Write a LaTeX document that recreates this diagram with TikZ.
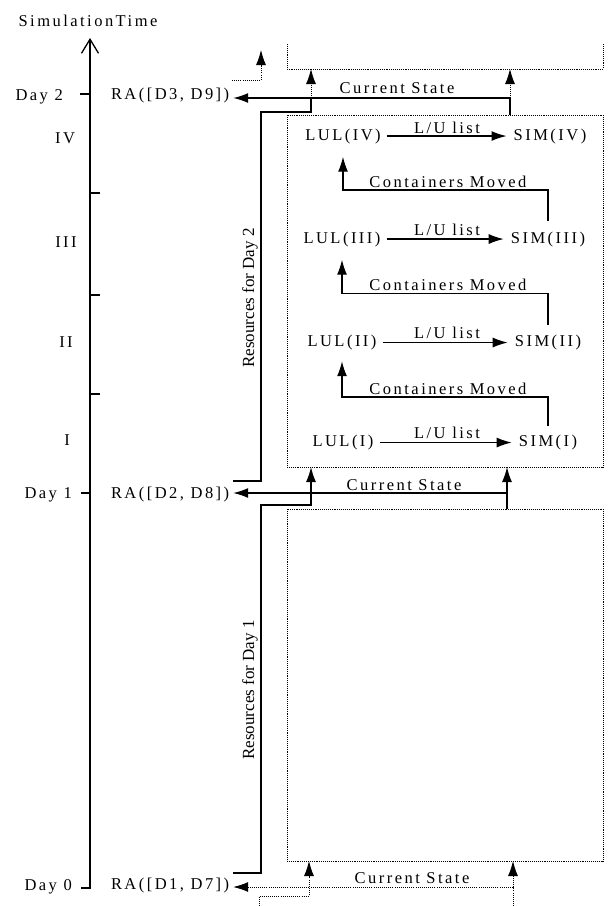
\documentclass[tikz,border=0pt]{standalone}
\usepackage{fontspec}
\setmainfont{Liberation Serif}[LetterSpace=15]
\newfontfamily\plainserif{Liberation Serif}
\usetikzlibrary{arrows.meta}
\begin{document}
\begin{tikzpicture}[x=1pt,y=-1pt,
  txt/.style={font=\fontsize{16.5}{19}\selectfont, inner sep=0pt, anchor=base},
  res/.style={font=\plainserif\fontsize{17}{20}\selectfont, inner sep=0pt, rotate=90, anchor=base},
  ra/.style={txt, anchor=base west, outer xsep=4pt},
  ln/.style={line width=1.3pt},
  tip/.style={-{Latex[length=15pt,width=10pt]}},
  arr/.style={ln, tip},
  dot/.style={line width=0.9pt, dash pattern=on 0.9pt off 1.2pt},
  darr/.style={dot, tip},
  boxline/.style={line width=0.8pt, dash pattern=on 0.8pt off 1.1pt},
  box/.style={draw, boxline, inner sep=0pt, outer sep=0pt, minimum width=316pt, minimum height=352pt}
]
\fill[white] (0,0) rectangle (610,906);
\useasboundingbox (0,0) rectangle (610,906);

% time axis
\coordinate (axbot) at (90,888);
\coordinate (axtop) at (90,38);
\draw[ln, -{Straight Barb[length=14pt,width=17pt]}] (81,888) -- (axbot) -- (axtop);
\draw[ln] (80,94) -- (90,94);
\draw[ln] (81,493) -- (90,493);
\draw[ln] (90,193) -- (100,193);
\draw[ln] (90,295) -- (100,295);
\draw[ln] (90,394) -- (100,394);

\node[txt] (title) at (88,26) {SimulationTime};
\node[txt, anchor=base east] (day2) at (63,100) {Day 2};
\node[txt, anchor=base east] (day1) at (72,498) {Day 1};
\node[txt, anchor=base east] (day0) at (72,890) {Day 0};
\node[txt] (p4) at (65,143) {IV};
\node[txt] (p3) at (66,247) {III};
\node[txt] (p2) at (66,347) {II};
\node[txt] (p1) at (67,445) {I};

\node[ra] (ra2) at (107,99.5) {RA([D3, D9])};
\node[ra] (ra1) at (107,498) {RA([D2, D8])};
\node[ra] (ra0) at (107,889.5) {RA([D1, D7])};

% boxes
\node[box] (day1box) at (445,291) {};
\node[box] (day0box) at (445,685) {};
\coordinate (d2bl) at (287,69);
\coordinate (d2br) at (603,69);
\draw[boxline] (287,44) -- (d2bl) -- (d2br) -- (603,44);

% simulation steps
\node[txt] (lul4) at (343,140) {LUL(IV)};
\node[txt] (sim4) at (550,140) {SIM(IV)};
\node[txt] (lul3) at (342,243) {LUL(III)};
\node[txt] (sim3) at (548,243) {SIM(III)};
\node[txt] (lul2) at (342,346.5) {LUL(II)};
\node[txt] (sim2) at (548,346.5) {SIM(II)};
\node[txt] (lul1) at (343,446.5) {LUL(I)};
\node[txt] (sim1) at (548,446.5) {SIM(I)};

\draw[arr, shorten <=6pt, shorten >=7pt] (lul4) -- (sim4);
\draw[arr, shorten <=6pt, shorten >=7pt] (lul3) -- (sim3);
\draw[arr, shorten <=6pt, shorten >=7pt] (lul2) -- (sim2);
\draw[arr, shorten <=6pt, shorten >=7pt] (lul1) -- (sim1);
\node[txt] (lu4) at (447,133) {L/U list};
\node[txt] (lu3) at (447,235) {L/U list};
\node[txt] (lu2) at (447,338.5) {L/U list};
\node[txt] (lu1) at (447,438.5) {L/U list};

\coordinate (cm1) at (448,190);
\coordinate (cm2) at (448,293.5);
\coordinate (cm3) at (448,397);
\node[txt] (cmt1) at (448,187) {Containers Moved};
\node[txt] (cmt2) at (448,290.5) {Containers Moved};
\node[txt] (cmt3) at (448,394) {Containers Moved};
\draw[arr, shorten <=10pt, shorten >=13pt] (sim3.north) |- (cm1) -| (lul4.south);
\draw[arr, shorten <=10pt, shorten >=13pt] (sim2.north) |- (cm2) -| (lul3.south);
\draw[arr, shorten <=9pt, shorten >=11pt] (sim1.north) |- (cm3) -| (lul2.south);

% resources labels
\node[res] (res2) at (254,298) {Resources for Day 2};
\node[res] (res1) at (254,690) {Resources for Day 1};

% current state labels
\node[txt] (cs2l) at (397,93) {Current State};
\node[txt] (cs1l) at (404,490) {Current State};
\node[txt] (cs0l) at (412,883) {Current State};

% day 2 links
\coordinate (cs2) at (510,98);
\draw[arr] (day1box.north -| cs2) -- (cs2) -- (ra2.east |- cs2);
\draw[darr] (cs2) -- (d2br -| cs2);
\coordinate (r2) at (311,98);
\draw[ln] (ra1.east |- 0,481) -- (261,481) -- (261,112) -- (311,112) -- (r2);
\draw[darr] (r2) -- (d2bl -| r2);
\draw[darr] (232,80) -- (261,80) -- (261,50);

% day 1 links
\coordinate (cs1) at (507,493);
\draw[arr] (day0box.north -| cs1) -- (day1box.south -| cs1);
\draw[arr] (cs1) -- (ra1.east |- cs1);
\draw[arr] (ra0.east |- 0,873) -- (261,873) -- (261,505) -- (311,505) -- (day1box.south -| 311,0);

% day 0 links
\coordinate (cs0) at (513,887);
\draw[dot] (513,906) -- (cs0);
\draw[darr] (cs0) -- (ra0.east |- cs0);
\draw[darr] (cs0) -- (day0box.south -| cs0);
\draw[darr] (259,906) -- (259,896) -- (309,896) -- (day0box.south -| 309,0);
\end{tikzpicture}
\end{document}
